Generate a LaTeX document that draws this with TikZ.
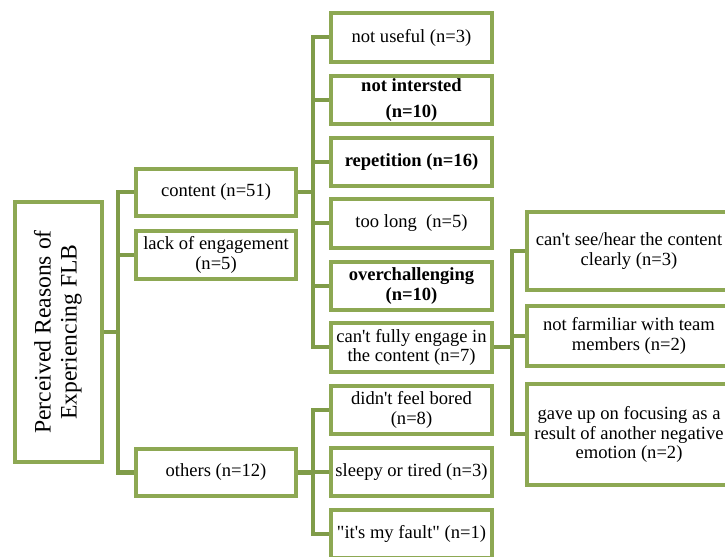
\documentclass[tikz,border=0pt]{standalone}
\usepackage{fontspec}
\setmainfont{Liberation Serif}[Ligatures=TeXOff]
\usepackage{graphicx}
\usepackage{xcolor}
\usetikzlibrary{positioning}
\definecolor{boxgreen}{HTML}{8DA853}
\definecolor{linkgreen}{HTML}{809C49}

\begin{document}
\begin{tikzpicture}[x=0.025cm,y=-0.025cm]
\tikzstyle{every node}+=[inner sep=0pt]
\tikzstyle{box}=[draw=boxgreen, line width=0.1cm, fill=white, align=center, font=\fontsize{13.2}{13.9}\selectfont]
\tikzstyle{lvlone}=[box, minimum width=4cm, minimum height=1.175cm]
\tikzstyle{lvltwo}=[box, minimum width=4.025cm, minimum height=1.2cm]
\tikzstyle{lvlthree}=[box, minimum width=5.1cm]
\tikzstyle{link}=[draw=linkgreen, line width=0.1cm]
\useasboundingbox (0,0) rectangle (725,557);
\clip (0,0) rectangle (725,557);
\coordinate (t0) at (118,332);
\coordinate (t1) at (313,192.5);
\coordinate (t2) at (313,472.5);
\coordinate (t3) at (512,347.5);
\node [box, minimum width=2.175cm, minimum height=6.5cm] (root) at (58.5,332) {\rotatebox{90}{\fontsize{16.8}{18.4}\selectfont\begin{tabular}{@{}c@{}}Perceived Reasons of\\Experiencing FLB\end{tabular}}};
\node [lvlone] (content) at (216,192.5) {content (n=51)};
\node [lvlone] (lack) at (216,255) {lack of engagement\\(n=5)};
\node [lvlone] (others) at (216,472.5) {others (n=12)};
\node [lvltwo] (useful) at (411.5,37.5) {not useful (n=3)};
\node [lvltwo, font=\fontsize{13.2}{18.4}\selectfont\bfseries] (interest) at (411.5,100) {not intersted\\(n=10)};
\node [lvltwo, font=\fontsize{13.2}{13.9}\selectfont\bfseries] (repeat) at (411.5,162) {repetition (n=16)};
\node [lvltwo] (long) at (411.5,223.5) {too long\ \ (n=5)};
\node [lvltwo, font=\fontsize{13.2}{13.9}\selectfont\bfseries] (hard) at (411.5,286) {overchallenging\\(n=10)};
\node [lvltwo] (engage) at (411.5,347.5) {can't fully engage in\\the content (n=7)};
\node [lvltwo] (bored) at (411.5,410) {didn't feel bored\\(n=8)};
\node [lvltwo] (sleepy) at (411.5,472) {sleepy or tired (n=3)};
\node [lvltwo] (fault) at (411.5,534) {"it's my fault" (n=1)};
\node [lvlthree, minimum height=1.95cm] (see) at (629,251) {can't see/hear the content\\clearly (n=3)};
\node [lvlthree, minimum height=1.5cm] (team) at (629,336) {not farmiliar with team\\members (n=2)};
\node [lvlthree, minimum height=2.525cm] (gave) at (629,434.5) {gave up on focusing as a\\result of another negative\\emotion (n=2)};
\foreach \c in {content,lack,others} \draw [link] (root.east) -- (t0) |- (\c.west);
\foreach \c in {useful,interest,repeat,long,hard,engage} \draw [link] (content.east) -- (t1) |- (\c.west);
\foreach \c in {bored,sleepy,fault} \draw [link] (others.east) -- (t2) |- (\c.west);
\foreach \c in {see,team,gave} \draw [link] (engage.east) -- (t3) |- (\c.west);
\end{tikzpicture}
\end{document}
